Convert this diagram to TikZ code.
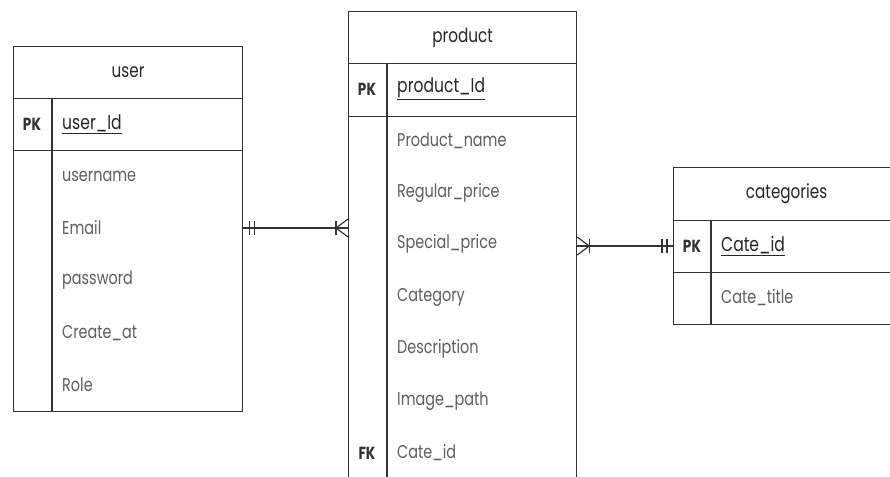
\documentclass[tikz,border=0pt]{standalone}
\usepackage{fontspec}
\setmainfont{Poppins}
\newfontfamily\erfont[FakeStretch=0.78]{Poppins}
\usetikzlibrary{positioning}

\definecolor{linegray}{HTML}{333333}
\definecolor{attrgray}{HTML}{5E5E5E}

\tikzset{
	tbox/.style = {draw = linegray, line width = 1.2pt, inner sep = 0pt, anchor = north west},
	head/.style = {font = \erfont\fontsize{19.5}{22}\selectfont, text = black!85},
	keyname/.style = {anchor = west, inner sep = 0pt, font = \erfont\fontsize{20}{22}\selectfont, text = black!85},
	tag/.style = {font = \erfont\fontsize{17.5}{19}\selectfont\bfseries, text = black!80},
	attr/.style = {anchor = west, inner sep = 0pt, font = \erfont\fontsize{18.5}{21}\selectfont, text = attrgray},
	rel/.style = {draw = linegray, line width = 1.2pt}
}

\begin{document}
\begin{tikzpicture}[x = 1pt, y = -1pt]
	\useasboundingbox[fill = white] (0, 0) rectangle (890, 476);

	% user
	\node[tbox, head, minimum width = 229pt, minimum height = 52pt] (userHead) at (13, 46) {user};
	\node[tbox, minimum width = 229pt, minimum height = 52pt] (userPK) at (13, 98) {};
	\node[tbox, minimum width = 229pt, minimum height = 261pt] (userBody) at (13, 150) {};
	\draw[rel] (52, 98) -- (52, 411);
	\node[tag] (userPKtag) at (32, 124) {PK};
	\node[keyname] (userId) at (62, 124) {\underline{user\_Id}};
	\node[attr] (uname) at (62, 176) {username};
	\node[attr] (uemail) at (62, 228) {Email};
	\node[attr] (upass) at (62, 280) {password};
	\node[attr] (ucreate) at (62, 333) {Create\_at};
	\node[attr] (urole) at (62, 385) {Role};

	% product
	\node[tbox, head, minimum width = 228pt, minimum height = 52pt] (prodHead) at (348, 11) {product};
	\node[tbox, minimum width = 228pt, minimum height = 53pt] (prodPK) at (348, 63) {};
	\node[tbox, minimum width = 228pt, minimum height = 370pt] (prodBody) at (348, 116) {};
	\draw[rel] (387, 63) -- (387, 486);
	\node[tag] (prodPKtag) at (367, 89) {PK};
	\node[keyname] (prodId) at (397, 89) {\underline{product\_Id}};
	\node[attr] (pname) at (397, 141) {Product\_name};
	\node[attr] (pregular) at (397, 193) {Regular\_price};
	\node[attr] (pspecial) at (397, 244) {Special\_price};
	\node[attr] (pcat) at (397, 297) {Category};
	\node[attr] (pdesc) at (397, 349) {Description};
	\node[attr] (pimage) at (397, 401) {Image\_path};
	\node[tag] (prodFKtag) at (367, 453) {FK};
	\node[attr] (pcate) at (397, 453) {Cate\_id};

	% categories
	\node[tbox, head, minimum width = 240pt, minimum height = 53pt, text width = 200pt, align = center] (catHead) at (673, 167) {categories\hspace*{14pt}};
	\node[tbox, minimum width = 240pt, minimum height = 52pt] (catPK) at (673, 220) {};
	\node[tbox, minimum width = 240pt, minimum height = 52pt] (catBody) at (673, 272) {};
	\draw[rel] (711, 220) -- (711, 324);
	\node[tag] (catPKtag) at (692, 246) {PK};
	\node[keyname] (catId) at (721, 246) {\underline{Cate\_id}};
	\node[attr] (ctitle) at (721, 298) {Cate\_title};

	% user -- product
	\coordinate (uEnd) at (userBody.east |- uemail);
	\coordinate (pStart) at (prodBody.west |- uemail);
	\draw[rel] (uEnd) -- (pStart);
	\draw[rel] ([xshift = 6pt, yshift = -7pt]uEnd) -- ([xshift = 6pt, yshift = 7pt]uEnd);
	\draw[rel] ([xshift = 11pt, yshift = -7pt]uEnd) -- ([xshift = 11pt, yshift = 7pt]uEnd);
	\draw[rel] ([xshift = -12pt, yshift = -7pt]pStart) -- ([xshift = -12pt, yshift = 7pt]pStart);
	\draw[rel] ([yshift = -9pt]pStart) -- ([xshift = -12pt]pStart) -- ([yshift = 9pt]pStart);

	% product -- categories
	\coordinate (pEnd) at (prodBody.east |- catId);
	\coordinate (cStart) at (catPK.west |- catId);
	\draw[rel] (pEnd) -- (cStart);
	\draw[rel] ([yshift = -9pt]pEnd) -- ([xshift = 12pt]pEnd) -- ([yshift = 9pt]pEnd);
	\draw[rel] ([xshift = 12pt, yshift = -7pt]pEnd) -- ([xshift = 12pt, yshift = 7pt]pEnd);
	\draw[rel] ([xshift = -6pt, yshift = -7pt]cStart) -- ([xshift = -6pt, yshift = 7pt]cStart);
	\draw[rel] ([xshift = -11pt, yshift = -7pt]cStart) -- ([xshift = -11pt, yshift = 7pt]cStart);

\end{tikzpicture}
\end{document}
